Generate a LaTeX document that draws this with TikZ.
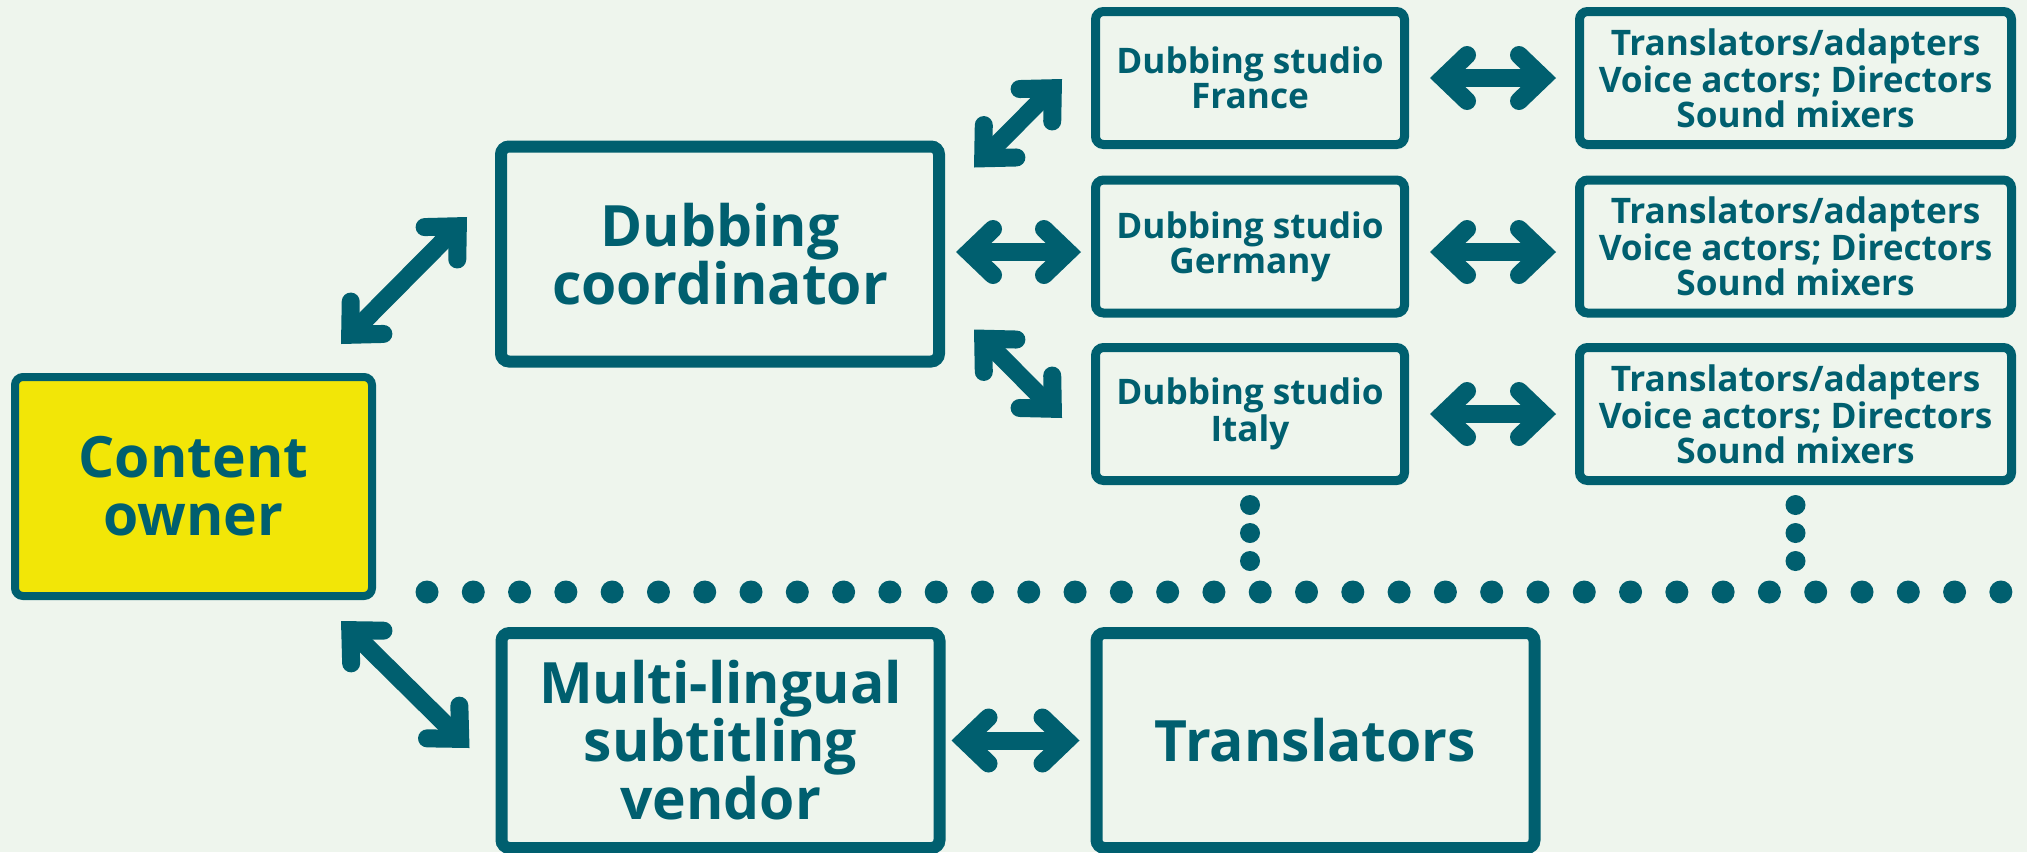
\documentclass[tikz,border=0pt]{standalone}
\usepackage{fontspec}
\setmainfont{Open Sans}
\usetikzlibrary{arrows.meta,calc}
\definecolor{dteal}{HTML}{005F6F}
\definecolor{bgc}{HTML}{EEF5ED}
\definecolor{yel}{HTML}{F2E607}
\tikzset{
  chev/.tip={Straight Barb[length=12pt,width=23pt,line cap=round,line join=miter]},
  box/.style={draw=dteal, rounded corners=4pt, inner sep=0pt, align=center, text=dteal},
  bigbox/.style={box, line width=6pt, minimum width=219pt, minimum height=107.5pt,
    font=\fontsize{28.5}{29}\selectfont\bfseries},
  cobox/.style={box, fill=yel, line width=4pt, minimum width=178.5pt, minimum height=109.5pt,
    font=\fontsize{28.5}{29}\selectfont\bfseries},
  studiobox/.style={box, line width=4.5pt, minimum width=154.5pt, minimum height=66.5pt,
    font=\fontsize{17.6}{17.5}\selectfont\bfseries},
  crewbox/.style={box, line width=4.5pt, minimum width=216pt, minimum height=66.5pt,
    font=\fontsize{17.6}{17.5}\selectfont\bfseries},
  dbl/.style={draw=dteal, line width=9pt, chev-chev},
  dotc/.style={fill=dteal}
}
\begin{document}
\begin{tikzpicture}[x=0.5pt,y=-0.5pt]
\useasboundingbox (0,0) rectangle (2027,852);
\clip (0,0) rectangle (2027,852);
\fill[bgc] (0,0) rectangle (2027,852);

% nodes
\node[cobox] (co) at (193.5,486.5) {Content\\owner};
\node[bigbox] (cd) at (720,254) {Dubbing\\coordinator};
\node[studiobox] (fr) at (1250,78) {Dubbing studio\\France};
\node[studiobox] (ge) at (1250,246.5) {Dubbing studio\\Germany};
\node[studiobox] (it) at (1250,414) {Dubbing studio\\Italy};
\node[crewbox] (ta1) at (1795.5,78) {Translators/adapters\\Voice actors; Directors\\Sound mixers};
\node[crewbox] (ta2) at (1795.5,246.5) {Translators/adapters\\Voice actors; Directors\\Sound mixers};
\node[crewbox] (ta3) at (1795.5,414) {Translators/adapters\\Voice actors; Directors\\Sound mixers};
\node[bigbox] (mu) at (720.5,740.5) {Multi-lingual\\subtitling\\vendor};
\node[bigbox] (tr) at (1315.5,740.5) {Translators};

% connectors
\draw[dbl] ([shift={(-35,-29)}]co.north east) -- ([shift={(-28,-37)}]cd.west);
\draw[dbl] ([shift={(-35,21)}]co.south east) -- ([shift={(-26,7.5)}]mu.west);
\draw[dbl] ([shift={(29,27)}]cd.north east) -- ([shift={(-29,1)}]fr.west);
\draw[dbl] ([shift={(11,-2)}]cd.east) -- ([shift={(-10,5.5)}]ge.west);
\draw[dbl] ([shift={(29,-38)}]cd.south east) -- ([shift={(-29,4)}]it.west);
\draw[dbl] ([shift={(21,0)}]fr.east) -- ([shift={(-19,0)}]ta1.west);
\draw[dbl] ([shift={(21,5.5)}]ge.east) -- ([shift={(-19,5.5)}]ta2.west);
\draw[dbl] ([shift={(21,0)}]it.east) -- ([shift={(-19,0)}]ta3.west);
\draw[dbl] ([shift={(6,0)}]mu.east) -- ([shift={(-11,0)}]tr.west);

% dotted separator and continuation dots
\foreach \i in {0,...,34} \fill[dotc] ({427+46.29*\i},592) circle (5.75pt);
\foreach \x in {1250,1795.5} \foreach \y in {505,533,561} \fill[dotc] (\x,\y) circle (5pt);
\end{tikzpicture}
\end{document}
